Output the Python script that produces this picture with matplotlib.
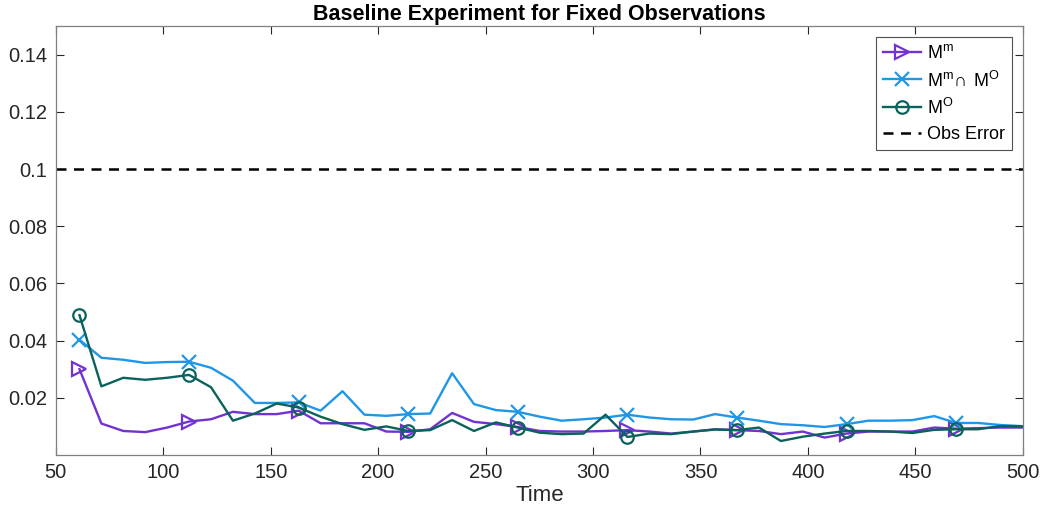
import numpy as np
import matplotlib
matplotlib.use("Agg")
import matplotlib.pyplot as plt

plt.rcParams['font.family'] = ['Liberation Sans', 'DejaVu Sans']
plt.rcParams['mathtext.fontset'] = 'custom'
plt.rcParams['mathtext.rm'] = 'Liberation Sans'

# observation times
time = 61 + 10.2 * np.arange(44)

err_model = [0.0300, 0.0110, 0.0084, 0.0080, 0.0096, 0.0117, 0.0125, 0.0151, 0.0143, 0.0143,
             0.0155, 0.0111, 0.0111, 0.0111, 0.0082, 0.0081, 0.0090, 0.0147, 0.0116, 0.0108,
             0.0098, 0.0084, 0.0082, 0.0082, 0.0084, 0.0087, 0.0082, 0.0075, 0.0082, 0.0090,
             0.0087, 0.0084, 0.0073, 0.0082, 0.0061, 0.0075, 0.0082, 0.0082, 0.0082, 0.0096,
             0.0092, 0.0094, 0.0096, 0.0096]

err_both = [0.0403, 0.0340, 0.0333, 0.0322, 0.0325, 0.0326, 0.0305, 0.0260, 0.0182, 0.0182,
            0.0184, 0.0155, 0.0223, 0.0141, 0.0137, 0.0143, 0.0145, 0.0286, 0.0178, 0.0157,
            0.0151, 0.0134, 0.0120, 0.0125, 0.0131, 0.0141, 0.0131, 0.0125, 0.0124, 0.0143,
            0.0131, 0.0120, 0.0108, 0.0104, 0.0098, 0.0108, 0.0120, 0.0120, 0.0122, 0.0136,
            0.0112, 0.0112, 0.0105, 0.0101]

err_obs = [0.0489, 0.0240, 0.0270, 0.0263, 0.0270, 0.0280, 0.0237, 0.0120, 0.0145, 0.0180,
           0.0166, 0.0134, 0.0108, 0.0088, 0.0100, 0.0084, 0.0087, 0.0122, 0.0084, 0.0114,
           0.0096, 0.0078, 0.0073, 0.0075, 0.0141, 0.0063, 0.0075, 0.0073, 0.0082, 0.0089,
           0.0087, 0.0096, 0.0049, 0.0064, 0.0075, 0.0084, 0.0084, 0.0082, 0.0077, 0.0088,
           0.0090, 0.0090, 0.0101, 0.0100]

obs_error = 0.1

c_model = '#7232d2'
c_both = '#1f97e6'
c_obs = '#0a635b'
axis_grey = '#262626'

fig = plt.figure(figsize=(10.44, 5.15), dpi=100)
ax = fig.add_axes([0.0535, 0.1165, 0.9262, 0.8330])

ax.plot(time, err_model, color=c_model, lw=1.7, marker='>', markevery=5,
        markersize=10, markerfacecolor='none', markeredgewidth=1.6,
        label=r'$\mathregular{M^m}$')
ax.plot(time, err_both, color=c_both, lw=1.7, marker='x', markevery=5,
        markersize=10, markeredgewidth=1.6,
        label=r'$\mathregular{M^m\!\cap\,M^O}$')
ax.plot(time, err_obs, color=c_obs, lw=1.7, marker='o', markevery=5,
        markersize=9, markerfacecolor='none', markeredgewidth=1.6,
        label=r'$\mathregular{M^O}$')
ax.axhline(obs_error, color='black', lw=1.8, ls=(0, (4, 3)), label='Obs Error')

ax.set_xlim(50, 500)
ax.set_ylim(0, 0.15)
ax.set_xticks(np.arange(50, 501, 50))
ax.set_yticks([0.02, 0.04, 0.06, 0.08, 0.1, 0.12, 0.14])
ax.set_yticklabels(['0.02', '0.04', '0.06', '0.08', '0.1', '0.12', '0.14'])

ax.tick_params(direction='in', length=6, width=0.8, colors=axis_grey,
               labelsize=14.5, top=True, right=True, pad=6)
for s in ax.spines.values():
    s.set_color('#808080')
    s.set_linewidth(0.9)

ax.set_xlabel('Time', fontsize=16, color=axis_grey, labelpad=2)
ax.set_title('Baseline Experiment for Fixed Observations', fontsize=15.5,
             fontweight='bold', color='black', pad=4)

leg = ax.legend(loc='upper right', fontsize=13, frameon=True, fancybox=False,
                edgecolor='#262626', handlelength=2.1, handletextpad=0.3,
                borderpad=0.4, labelspacing=0.45, borderaxespad=0.6,
                numpoints=1)
leg.get_frame().set_linewidth(0.8)

fig.savefig('out.png', dpi=100)
